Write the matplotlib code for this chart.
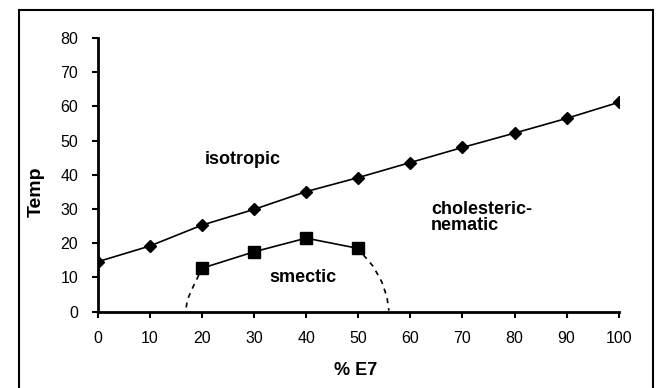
import matplotlib.pyplot as plt
from matplotlib.patches import Rectangle

plt.rcParams['font.family'] = ['Liberation Sans', 'DejaVu Sans']

# clearing points (isotropic boundary)
x_iso = [0, 10, 20, 30, 40, 50, 60, 70, 80, 90, 100]
t_iso = [14.6, 19.2, 25.3, 29.9, 35.1, 39.2, 43.6, 48.0, 52.2, 56.5, 61.2]

# smectic boundary
x_sm = [20, 30, 40, 50]
t_sm = [12.7, 17.5, 21.5, 18.5]

# dashed guesses at the smectic dome edges
x_left = [19.4, 18.0, 17.2, 16.9]
t_left = [10.7, 6.3, 3.4, 0.3]
x_right = [51.0, 52.9, 54.5, 55.5, 55.9]
t_right = [16.6, 13.2, 8.8, 4.4, 0.3]

xticks = list(range(0, 101, 10))
yticks = list(range(0, 81, 10))

fig = plt.figure(figsize=(6.6, 3.88), dpi=100)
ax = fig.add_axes([97.7 / 660, (388 - 311.7) / 388, 521 / 660, 273.7 / 388])

ax.plot(x_iso, t_iso, color='black', lw=1.2, marker='D', ms=6, mfc='black')
ax.plot(x_sm, t_sm, color='black', lw=1.2, marker='s', ms=8, mfc='black')
ax.plot(x_left, t_left, color='black', lw=1.2, ls=(0, (3, 3)))
ax.plot(x_right, t_right, color='black', lw=1.2, ls=(0, (3, 3)))

ax.set_xlim(0, 100)
ax.set_ylim(0, 80)
ax.set_xticks(xticks)
ax.set_yticks(yticks)
ax.tick_params(direction='out', length=4, width=1.5, labelsize=11.5, pad=10)
ax.tick_params(axis='y', pad=10)
for s in ['top', 'right']:
    ax.spines[s].set_visible(False)
for s in ['left', 'bottom']:
    ax.spines[s].set_linewidth(2)

ax.set_xlabel('% E7', fontsize=13, fontweight='bold')
ax.set_ylabel('Temp', fontsize=14, fontweight='bold')
ax.xaxis.set_label_coords(0.495, -0.184)
ax.yaxis.set_label_coords(-0.101, 0.44)

ax.text(20.6, 44.4, 'isotropic', fontsize=13, fontweight='bold', va='center')
ax.text(33, 10.1, 'smectic', fontsize=13, fontweight='bold', va='center')
ax.text(64, 27.5, 'cholesteric-\nnematic', fontsize=13, fontweight='bold',
        va='center', linespacing=0.95)

# chart area frame
fig.patches.append(Rectangle((19 / 660, -0.05), 634 / 660, 1.05 - 10 / 388,
                             transform=fig.transFigure, fill=False,
                             edgecolor='black', lw=1.5))

fig.savefig('out.png', dpi=100)
